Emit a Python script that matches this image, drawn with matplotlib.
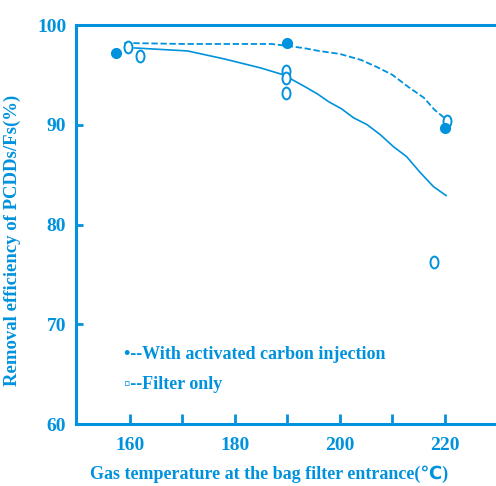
import matplotlib.pyplot as plt
from matplotlib.path import Path
from matplotlib.transforms import Affine2D

BLUE = '#0092DD'

# readings
carbon_x = [157.5, 190, 220]
carbon_y = [97.2, 98.2, 89.7]
filter_x = [159.6, 161.9, 189.8, 189.8, 189.8, 220.3, 218.0]
filter_y = [97.8, 96.9, 95.4, 94.7, 93.2, 90.4, 76.2]

# hand drawn trend curves
carbon_curve_x = [159, 170, 180, 187, 193, 196, 200, 204, 207, 210, 213, 216, 218, 220.3]
carbon_curve_y = [98.2, 98.1, 98.1, 98.1, 97.7, 97.4, 97.1, 96.5, 95.8, 95.0, 93.8, 92.7, 91.5, 90.5]
filter_curve_x = [160.9, 171, 178, 184.9, 189.3, 193.4, 195.7, 197.9, 200.3, 202.6,
                  205.2, 207.7, 210.2, 212.7, 215.3, 217.8, 220.2]
filter_curve_y = [97.7, 97.4, 96.6, 95.7, 95.0, 93.8, 93.1, 92.3, 91.6, 90.7,
                  90.0, 89.0, 87.8, 86.8, 85.2, 83.8, 82.9]

x_major = [160, 180, 200, 220]
x_minor = [170, 190, 210]
y_ticks = [60, 70, 80, 90, 100]

font = {'family': ['Liberation Serif', 'DejaVu Sans'], 'weight': 'bold', 'color': BLUE}

fig = plt.figure(figsize=(4.96, 4.86), dpi=100)
ax = fig.add_axes([76 / 496, 62 / 486, 420 / 496, 399 / 486])

ellipse = Path.unit_circle().transformed(Affine2D().scale(0.68, 1.0))

ax.plot(filter_curve_x, filter_curve_y, color=BLUE, lw=1.2)
ax.plot(carbon_curve_x, carbon_curve_y, color=BLUE, lw=1.3, dashes=(3.5, 1.5))
ax.plot(filter_x, filter_y, ls='none', marker=ellipse, ms=8.5, mfc='white',
        mec=BLUE, mew=1.4)
ax.plot(carbon_x, carbon_y, ls='none', marker='o', ms=7, color=BLUE)

ax.set_xlim(149.8, 229.7)
ax.set_ylim(60, 100)
ax.set_xticks(x_major)
ax.set_xticks(x_minor, minor=True)
ax.set_yticks(y_ticks)
ax.set_xticklabels([str(v) for v in x_major], fontdict=font, fontsize=14)
ax.set_yticklabels([str(v) for v in y_ticks], fontdict=font, fontsize=14)
ax.tick_params(axis='x', which='both', direction='in', length=7, width=2,
               color=BLUE, pad=9)
ax.tick_params(axis='y', direction='in', length=5, width=2, color=BLUE, pad=7)

for side in ['left', 'bottom', 'top']:
    ax.spines[side].set_color(BLUE)
    ax.spines[side].set_linewidth(2.2)
ax.spines['right'].set_visible(False)

ax.set_xlabel('Gas temperature at the bag filter entrance(\u2103)', fontdict=font,
              fontsize=13)
ax.set_ylabel('Removal efficiency of PCDDs/Fs(%)', fontdict=font, fontsize=13.5)
ax.xaxis.set_label_coords(0.46, -0.105)
ax.yaxis.set_label_coords(-0.13, 0.46)

ax.text(0.115, 0.175, '\u2022--With activated carbon injection', transform=ax.transAxes,
        fontdict=font, fontsize=13, va='center')
ax.text(0.115, 0.1, '\u25ab--Filter only', transform=ax.transAxes,
        fontdict=font, fontsize=13, va='center')

fig.savefig('out.png', dpi=100)
